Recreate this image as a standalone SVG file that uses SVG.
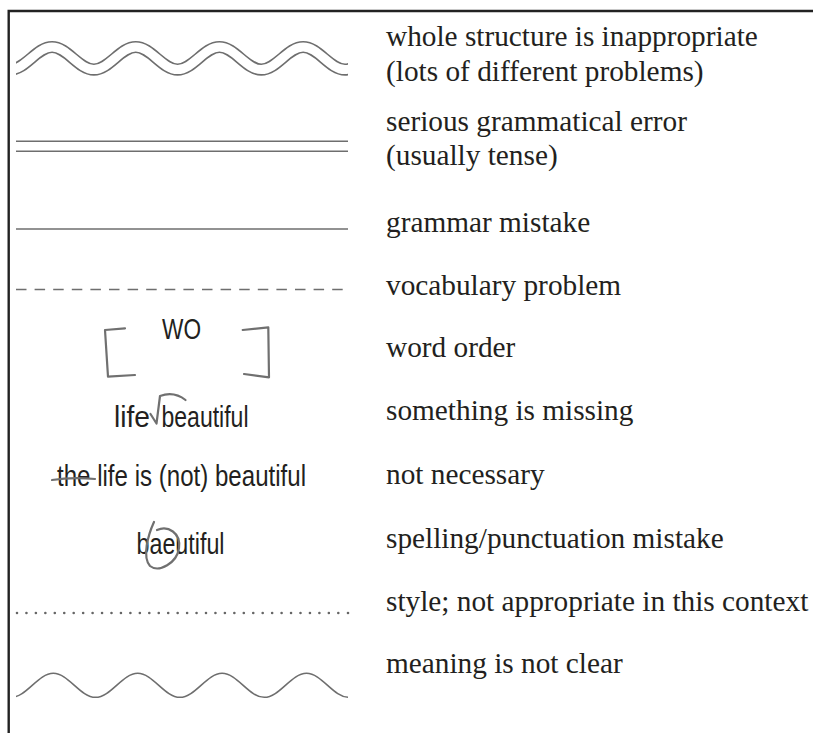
<svg xmlns="http://www.w3.org/2000/svg" width="813" height="733" viewBox="0 0 813 733">
<style>
.lbl{font-family:"Liberation Serif","Times New Roman",serif;font-size:29.3px;fill:#231f20}
.smp{font-family:"Liberation Sans",Arial,sans-serif;font-size:29px;fill:#231f20}
.mk{fill:none;stroke:#6e6e6e;stroke-width:1.6}
.pen{fill:none;stroke:#707070;stroke-width:2.2;stroke-linecap:round;stroke-linejoin:round}
</style>
<defs>
<clipPath id="cl"><rect x="16" y="0" width="332" height="733"/></clipPath>
<path id="w2" d="M10.2,69.6 C25.44,69.6 36.81,47 52.05,47 C67.29,47 78.66,69.6 93.9,69.6 C109.14,69.6 120.51,47 135.75,47 C150.99,47 162.36,69.6 177.6,69.6 C192.84,69.6 204.21,47 219.45,47 C234.69,47 246.06,69.6 261.3,69.6 C276.54,69.6 287.91,47 303.15,47 C318.39,47 329.76,69.6 345,69.6 C360.24,69.6 371.61,47 386.85,47"/>
</defs>
<rect width="813" height="733" fill="#fff"/>
<g id="frame"><path d="M813,11 H8.7 V733" fill="none" stroke="#222" stroke-width="2.4"/></g>

<g id="row1">
<g clip-path="url(#cl)" fill="none">
<use href="#w2" stroke="#6e6e6e" stroke-width="12.2"/>
<use href="#w2" stroke="#fff" stroke-width="9"/>
</g>
<text class="lbl" x="386" y="46">whole structure is inappropriate</text>
<text class="lbl" x="386" y="81">(lots of different problems)</text>
</g>

<g id="row2">
<line x1="16" y1="146.3" x2="348" y2="146.3" stroke="#6e6e6e" stroke-width="11.6"/>
<line x1="16" y1="146.3" x2="348" y2="146.3" stroke="#fff" stroke-width="8.4"/>
<text class="lbl" x="386" y="131">serious grammatical error</text>
<text class="lbl" x="386" y="165">(usually tense)</text>
</g>

<g id="row3">
<line class="mk" x1="16" y1="229" x2="348" y2="229"/>
<text class="lbl" x="386" y="232">grammar mistake</text>
</g>

<g id="row4">
<line class="mk" x1="16" y1="289.5" x2="344" y2="289.5" stroke-dasharray="10.5 8.1" stroke-width="2"/>
<text class="lbl" x="386" y="295">vocabulary problem</text>
</g>

<g id="row5">
<path class="pen" d="M125,328.3 L105,330 L108,376.7 L135,375"/>
<path class="pen" d="M242.7,330 L268.3,327.3 L269,377.3 L244,374"/>
<text class="smp" x="162" y="338.5" font-size="23" textLength="39" lengthAdjust="spacingAndGlyphs">WO</text>
<text class="lbl" x="386" y="357">word order</text>
</g>

<g id="row6">
<text class="smp" x="114" y="426.7" textLength="36" lengthAdjust="spacingAndGlyphs">life</text>
<path class="pen" d="M150.5,414 L156.5,423.5 L160,396 Q174,391 185.5,400" stroke-width="2.4"/>
<text class="smp" x="161.5" y="426.7" textLength="87" lengthAdjust="spacingAndGlyphs">beautiful</text>
<text class="lbl" x="386" y="420">something is missing</text>
</g>

<g id="row7">
<text class="smp" x="57" y="485.7" textLength="249" lengthAdjust="spacingAndGlyphs">the life is (not) beautiful</text>
<path class="pen" d="M52,480 Q72,477 95,479" stroke-width="1.8"/>
<text class="lbl" x="386" y="484">not necessary</text>
</g>

<g id="row8">
<text class="smp" x="136.5" y="554.3" font-size="28" textLength="88" lengthAdjust="spacingAndGlyphs">baeutiful</text>
<path class="pen" d="M154,522 C148,535 142,557 150,566 C159,573 177,563 179,548 C181,533 168,525 157,530" stroke-width="1.9"/>
<text class="lbl" x="386" y="548">spelling/punctuation mistake</text>
</g>

<g id="row9">
<line x1="17" y1="613" x2="342" y2="613" stroke="#666" stroke-width="2.6" stroke-linecap="round" stroke-dasharray="0 9.45"/>
<circle cx="348" cy="613" r="1.3" fill="#666"/>
<text class="lbl" x="386" y="611">style; not appropriate in this context</text>
</g>

<g id="row10">
<path class="mk" clip-path="url(#cl)" d="M11.1,697.3 C26.47,697.3 37.930,673.3 53.3,673.3 C68.67,673.3 80.13,697.3 95.5,697.3 C110.87,697.3 122.33,673.3 137.7,673.3 C153.07,673.3 164.53,697.3 179.9,697.3 C195.27,697.3 206.73,673.3 222.1,673.3 C237.47,673.3 248.93,697.3 264.3,697.3 C279.67,697.3 291.13,673.3 306.5,673.3 C321.87,673.3 333.33,697.3 348.7,697.3"/>
<text class="lbl" x="386" y="673">meaning is not clear</text>
</g>
</svg>
